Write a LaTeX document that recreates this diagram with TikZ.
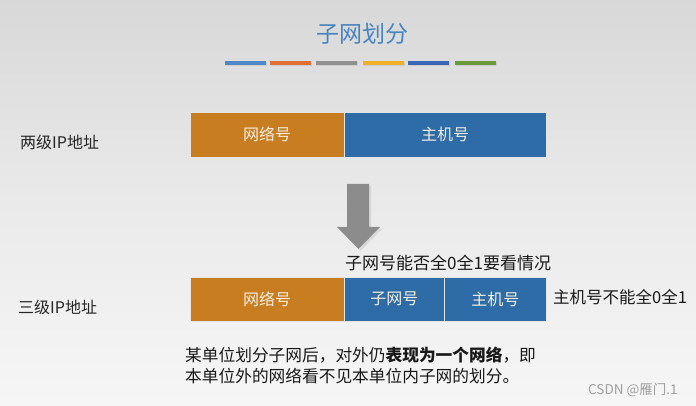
\documentclass[tikz,border=0pt]{standalone}
\usepackage{fontspec}
\setmainfont{Noto Sans CJK SC}
\usepackage{tikz}
\usetikzlibrary{positioning}
\definecolor{bgtop}{RGB}{216,216,216}
\definecolor{bgbot}{RGB}{246,246,246}
\definecolor{titleblue}{RGB}{72,132,192}
\definecolor{snorange}{RGB}{200,125,32}
\definecolor{snblue}{RGB}{46,108,168}
\definecolor{boxtext}{RGB}{246,238,226}
\definecolor{arrowgray}{RGB}{140,140,140}
\definecolor{bar1}{RGB}{79,136,198}
\definecolor{bar2}{RGB}{224,112,52}
\definecolor{bar3}{RGB}{145,145,145}
\definecolor{bar4}{RGB}{238,176,36}
\definecolor{bar5}{RGB}{58,102,184}
\definecolor{bar6}{RGB}{106,154,58}
\tikzstyle{field} = [minimum height=45pt, inner sep=0pt, outer sep=0pt, draw=white!80!gray, line width=0.5pt, text=boxtext, font=\fontsize{16}{18}\selectfont]
\tikzstyle{netfield} = [field, fill=snorange]
\tikzstyle{hostfield} = [field, fill=snblue]
\tikzstyle{rowlabel} = [anchor=west, inner sep=0pt, font=\fontsize{16}{18}\selectfont, text=black!85]
\tikzstyle{note} = [anchor=west, inner sep=0pt, font=\fontsize{17}{19}\selectfont, text=black!90]

\begin{document}
\begin{tikzpicture}[x=1pt, y=-1pt]
\useasboundingbox (0,0) rectangle (696,406);
\shade[top color=bgtop, bottom color=bgbot, middle color=bgbot!60!bgtop] (0,0) rectangle (696,406);

% Title
\node[font=\fontsize{23}{26}\selectfont, text=titleblue] (title) at (362,34) {子网划分};
\foreach \x/\c in {225/bar1, 270/bar2, 316/bar3, 363/bar4, 408/bar5, 455/bar6} {
  \fill[black!20] (\x+1,62) rectangle +(41,4);
  \fill[\c] (\x,61) rectangle +(41,4);
}

% Two-level address
\node[rowlabel] (twolevel) at (20,142) {两级IP地址};
\node[netfield, minimum width=154pt] (net1) at (267,134.5) {网络号};
\node[hostfield, minimum width=202pt, right=0pt of net1] (host1) {主机号};

% Arrow
\fill[black!15] (349,186) -- (371,186) -- (371,229) -- (382,229) -- (360.5,251) -- (339,229) -- (349,229) -- cycle;
\fill[arrowgray] (347,184) -- (369,184) -- (369,227) -- (380,227) -- (358.5,249) -- (337,227) -- (347,227) -- cycle;
\node[note] (subnote) at (345,263) {子网号能否全0全1要看情况};

% Three-level address
\node[rowlabel] (threelevel) at (18,307) {三级IP地址};
\node[netfield, minimum width=154pt, minimum height=44pt] (net2) at (267,299) {网络号};
\node[hostfield, minimum width=100.5pt, minimum height=44pt, right=0pt of net2] (sub2) {子网号};
\node[hostfield, minimum width=101.5pt, minimum height=44pt, right=0pt of sub2] (host2) {主机号};
\node[note, font=\fontsize{16.5}{19}\selectfont] (hostnote) at (553,297) {主机号不能全0全1};

% Remark
\node[anchor=north west, align=left, inner sep=0pt, font=\fontsize{16.7}{21}\selectfont, text=black!90] (remark) at (185,347) {某单位划分子网后，对外仍\textbf{表现为一个网络}，即\\本单位外的网络看不见本单位内子网的划分。};
\node[anchor=west, inner sep=0pt, text=gray!75, font=\fontsize{13.5}{15}\selectfont] (mark) at (588,390) {CSDN @雁门.1};
\end{tikzpicture}
\end{document}
